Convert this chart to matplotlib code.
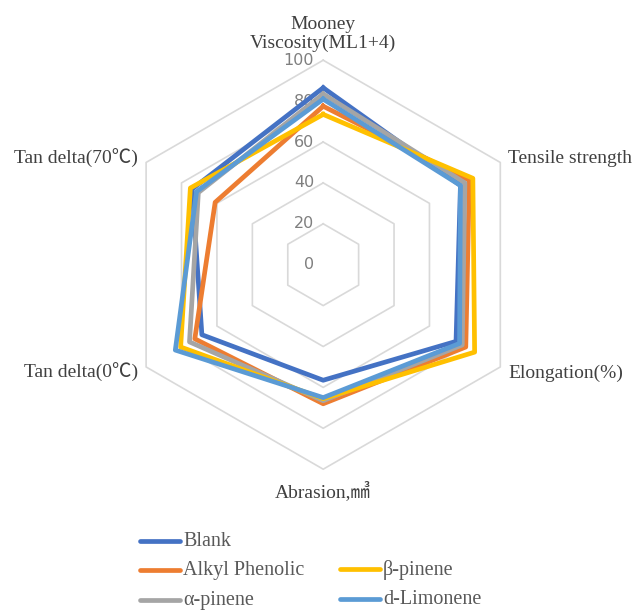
import numpy as np
import matplotlib.pyplot as plt
from matplotlib.lines import Line2D

# Radar axes and their values
categories = ['Mooney\nViscosity(ML1+4)', 'Tensile strength', 'Elongation(%)',
              'Abrasion,㎣', 'Tan delta(0℃)', 'Tan delta(70℃)']
series_names = ['Blank', 'Alkyl Phenolic', 'α-pinene', 'β-pinene', 'd-Limonene']
blank = [86.5, 77.5, 75.0, 56.5, 68.5, 74.0]
alkyl_phenolic = [77.5, 82.5, 80.5, 68.0, 72.5, 61.0]
a_pinene = [83.5, 80.0, 78.5, 66.5, 75.5, 70.5]
b_pinene = [73.5, 84.5, 85.5, 65.5, 80.5, 75.0]
d_limonene = [81.0, 77.5, 77.0, 65.0, 83.5, 71.5]
levels = [0, 20, 40, 60, 80, 100]

colors = ['#4472C4', '#ED7D31', '#A5A5A5', '#FFC000', '#5B9BD5']
label_font = ['Liberation Serif', 'Noto Sans CJK KR', 'DejaVu Sans']

W, H = 642, 610
fig = plt.figure(figsize=(W / 100, H / 100), dpi=100)

# polar axes centred on the hexagon
cx, cy, R = 323.2, 264.7, 204.5
ax = fig.add_axes([(cx - R) / W, 1 - (cy + R) / H, 2 * R / W, 2 * R / H],
                  projection='polar')
ax.set_theta_offset(np.pi / 2)
ax.set_theta_direction(-1)
ax.set_ylim(0, 100)
ax.set_xticks([])
ax.set_yticks([])
ax.grid(False)
ax.spines['polar'].set_visible(False)

n = len(categories)
theta = np.linspace(0, 2 * np.pi, n, endpoint=False)
theta_closed = np.append(theta, theta[0])

# hexagonal grid rings
for lvl in levels[1:]:
    ax.plot(theta_closed, [lvl] * (n + 1), color='#d9d9d9', lw=1.2,
            zorder=1, clip_on=False)

# value labels along the top axis
for lvl in levels:
    ax.annotate(str(lvl), xy=(0, lvl), xytext=(-9, 0), textcoords='offset pixels',
                ha='right', va='center', fontsize=11.5, color='#7f7f7f',
                family='DejaVu Sans')

# data series
data = [blank, alkyl_phenolic, a_pinene, b_pinene, d_limonene]
for vals, col in zip(data, colors):
    ax.plot(theta_closed, vals + vals[:1], color=col, lw=3.4,
            solid_joinstyle='round', zorder=3, clip_on=False)

# category labels around the outer ring
offsets = [(0, 8, 'center', 'bottom'), (8, 4, 'left', 'center'),
           (8, -6, 'left', 'center'), (0, -12, 'center', 'top'),
           (-8, -6, 'right', 'center'), (-8, 4, 'right', 'center')]
for t, name, (dx, dy, ha, va) in zip(theta, categories, offsets):
    ax.annotate(name, xy=(t, 100), xytext=(dx, dy), textcoords='offset pixels',
                ha=ha, va=va, multialignment='center', fontsize=14,
                color='#404040', family=label_font, linespacing=1.12)

# legend at the bottom
legend_pos = [(140, 541), (140, 570), (140, 600), (340, 569), (340, 599)]
for (x, y), name, col in zip(legend_pos, series_names, colors):
    fig.add_artist(Line2D([x / W, (x + 40) / W], [1 - y / H, 1 - y / H],
                          transform=fig.transFigure, color=col, lw=3.4,
                          solid_capstyle='round'))
    fig.text((x + 43) / W, 1 - (y + 1) / H, name, ha='left', va='center',
             fontsize=14.5, color='#595959', family=label_font)

fig.savefig('out.png', dpi=100)
